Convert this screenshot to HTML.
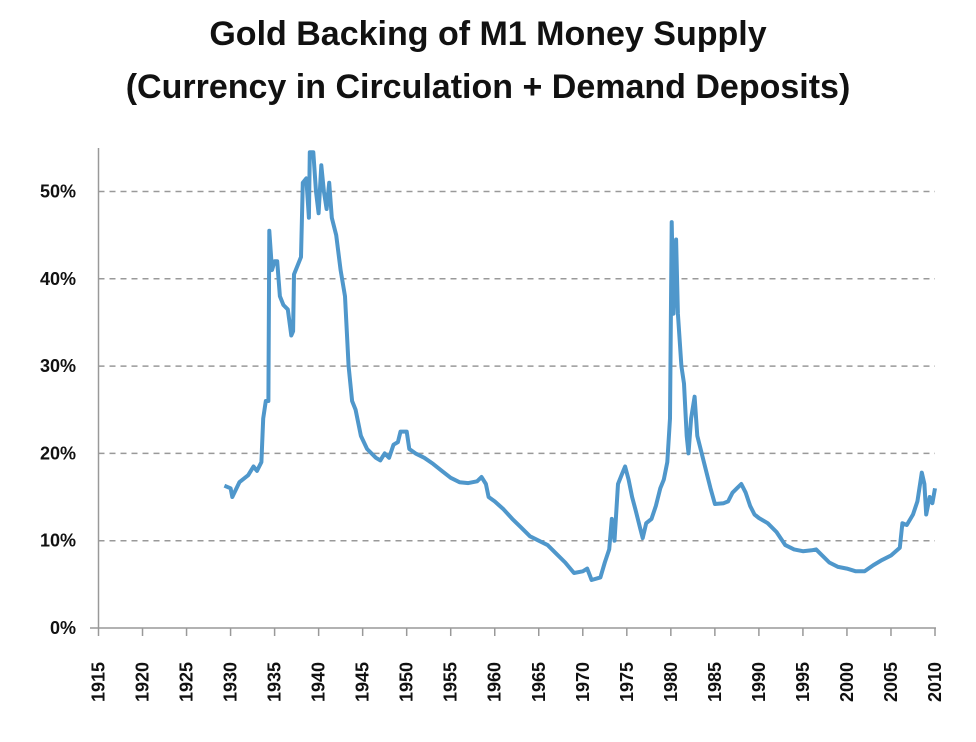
<!DOCTYPE html>
<html><head><meta charset="utf-8"><style>
html,body{margin:0;padding:0;background:#fff;}
body{width:976px;height:742px;overflow:hidden;font-family:"Liberation Sans",sans-serif;}
.t{position:absolute;left:0;width:976px;text-align:center;font-weight:bold;font-size:34px;color:#111;}
</style></head><body>
<div class="t" style="top:15px">Gold Backing of M1 Money Supply</div>
<div class="t" style="top:68px">(Currency in Circulation + Demand Deposits)</div>
<svg id="c" width="976" height="742" style="position:absolute;left:0;top:0"></svg>
<script>
const yTicks=[0,10,20,30,40,50];
const xTicks=[1915,1920,1925,1930,1935,1940,1945,1950,1955,1960,1965,1970,1975,1980,1985,1990,1995,2000,2005,2010];
const years=[1929.3,1930,1930.2,1931,1932,1932.6,1933,1933.5,1933.7,1934,1934.3,1934.4,1934.7,1935,1935.3,1935.6,1936,1936.5,1936.9,1937.1,1937.2,1937.6,1938,1938.2,1938.6,1938.9,1939,1939.4,1939.7,1940,1940.3,1940.6,1940.9,1941.2,1941.5,1942,1942.5,1943,1943.4,1943.8,1944.2,1944.8,1945.5,1946.5,1947,1947.5,1948,1948.5,1949,1949.3,1950,1950.3,1951,1952,1953,1954,1955,1956,1957,1958,1958.5,1959,1959.3,1960,1961,1962,1963,1964,1965,1966,1967,1968,1969,1970,1970.5,1971,1972,1972.5,1973,1973.3,1973.6,1974,1974.4,1974.8,1975.2,1975.6,1976,1976.5,1976.8,1977.2,1977.8,1978.3,1978.8,1979.2,1979.6,1979.9,1980.1,1980.3,1980.6,1980.8,1981.2,1981.5,1981.8,1982,1982.3,1982.7,1983,1983.5,1984,1984.5,1985,1986,1986.5,1987,1987.5,1988,1988.5,1989,1989.5,1990,1991,1992,1993,1994,1995,1996,1996.5,1997,1998,1999,2000,2001,2002,2003,2004,2005,2006,2006.3,2006.8,2007.5,2008,2008.5,2008.8,2009,2009.4,2009.7,2010];
const values=[16.3,16,15,16.7,17.5,18.5,18,19,24,26,26,45.5,41,42,42,38,37,36.5,33.5,34,40.5,41.5,42.5,51,51.5,47,54.5,54.5,50,47.5,53,50,48,51,47,45,41,38,30,26,25,22,20.5,19.5,19.2,20,19.5,21,21.3,22.5,22.5,20.5,20,19.5,18.8,18,17.2,16.7,16.6,16.8,17.3,16.5,15,14.5,13.6,12.5,11.5,10.5,10,9.5,8.5,7.5,6.3,6.5,6.8,5.5,5.8,7.5,9,12.5,10,16.5,17.5,18.5,17,15,13.5,11.5,10.3,12,12.5,14,16,17,19,24,46.5,36,44.5,36,30,28,22,20,24,26.5,22,20,18,16,14.2,14.3,14.5,15.5,16,16.5,15.5,14,13,12.6,12,11,9.5,9,8.8,8.9,9,8.5,7.5,7,6.8,6.5,6.5,7.2,7.8,8.3,9.2,12,11.8,13,14.5,17.8,16.5,13,15,14.3,16];
const NS="http://www.w3.org/2000/svg",svg=document.getElementById('c');
const x0=98.5,x1=935,y0=628,yPer=8.73;
const X=y=>x0+(y-1915)*(x1-x0)/95, Y=v=>y0-v*yPer;
function mk(t,a){const e=document.createElementNS(NS,t);for(const k in a)e.setAttribute(k,a[k]);svg.appendChild(e);return e;}
yTicks.forEach(v=>{
  if(v>0){const g=mk('line',{x1:x0,x2:935,y1:Y(v),y2:Y(v),stroke:'#999','stroke-width':1.5,'stroke-dasharray':'6,5'});
  
  }
  const t=mk('text',{x:76,y:Y(v)+6,'text-anchor':'end','font-size':18,'font-weight':'bold',fill:'#111','font-family':'Liberation Sans, sans-serif'});
  t.textContent=v+'%';
  
  
});
const ya=mk('line',{x1:x0,x2:x0,y1:148,y2:y0,stroke:'#999','stroke-width':1.5});


const xa=mk('line',{x1:90,x2:936,y1:y0,y2:y0,stroke:'#999','stroke-width':1.5});


xTicks.forEach(yr=>{
  const tk=mk('line',{x1:X(yr),x2:X(yr),y1:y0,y2:y0+8,stroke:'#999','stroke-width':1.5});
  
  
  const t=mk('text',{x:0,y:0,'text-anchor':'middle','font-size':18,'font-weight':'bold',fill:'#111','font-family':'Liberation Sans, sans-serif',transform:`translate(${X(yr)+6},682) rotate(-90)`});
  t.textContent=yr;
  
  
});
const d=years.map((yr,i)=>(i?'L':'M')+X(yr).toFixed(1)+','+Y(values[i]).toFixed(1)).join(' ');
const p=mk('path',{d:d,fill:'none',stroke:'#4f97cb','stroke-width':4,'stroke-linejoin':'round'});


</script>
</body></html>
